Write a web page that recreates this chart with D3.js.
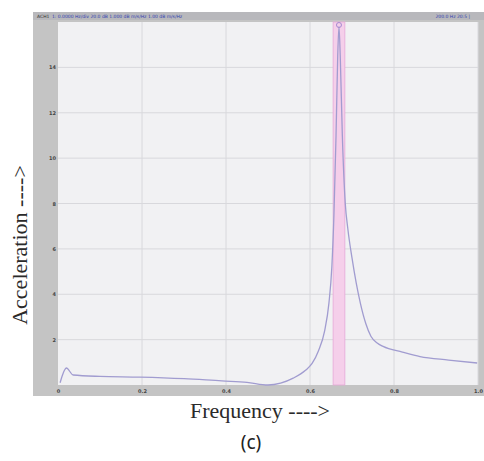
<!DOCTYPE html>
<html>
<head>
<meta charset="utf-8">
<script src="https://cdn.jsdelivr.net/npm/d3@7"></script>
<style>
  body { margin: 0; background: #fff; }
  svg { display: block; }
</style>
</head>
<body>
<div id="chart"></div>
<script>
// frequency (normalised 0..1) and acceleration
var freq  = [0.005, 0.02, 0.036, 0.1, 0.195, 0.3, 0.39, 0.45, 0.50, 0.53, 0.56, 0.59, 0.605, 0.62, 0.635, 0.645, 0.652, 0.657, 0.662, 0.666, 0.669, 0.672, 0.677, 0.684, 0.69, 0.70, 0.71, 0.72, 0.733, 0.745, 0.76, 0.774, 0.82, 0.862, 0.93, 0.998];
var accel = [0.1, 0.75, 0.44, 0.38, 0.35, 0.28, 0.18, 0.12, 0.0, 0.08, 0.3, 0.66, 0.95, 1.5, 2.4, 3.6, 5.2, 7.5, 11.0, 14.5, 15.8, 14.5, 11.0, 8.0, 6.9, 5.6, 4.5, 3.6, 2.7, 2.15, 1.85, 1.7, 1.45, 1.25, 1.1, 0.97];

var xTicks = [0, 0.2, 0.4, 0.6, 0.8, 1.0];
var xTickLabels = ["0", "0.2", "0.4", "0.6", "0.8", "1.0"];
var yTicks = [2, 4, 6, 8, 10, 12, 14];

var markerBand = [0.655, 0.683];
var peakFreq = 0.669;

var W = 484, H = 461;
var frame = { left: 33, top: 12, right: 484, bottom: 396 };
var plot = { left: 58, top: 22, right: 478, bottom: 385 };

var svg = d3.select("#chart").append("svg")
    .attr("width", W)
    .attr("height", H);

// outer analyser window
svg.append("rect")
    .attr("x", frame.left).attr("y", frame.top)
    .attr("width", frame.right - frame.left)
    .attr("height", frame.bottom - frame.top)
    .attr("fill", "#c4c4c4");

// title strip
svg.append("rect")
    .attr("x", frame.left).attr("y", frame.top)
    .attr("width", frame.right - frame.left).attr("height", 8)
    .attr("fill", "#b8b8bc");
svg.append("text")
    .attr("x", 37).attr("y", 18)
    .attr("font-family", "DejaVu Sans").attr("font-size", 4.5)
    .attr("fill", "#333")
    .text("ACH1");
svg.append("text")
    .attr("x", 52).attr("y", 18)
    .attr("font-family", "DejaVu Sans").attr("font-size", 4.5)
    .attr("fill", "#3040b0")
    .text("1: 0.0000 Hz/div     20.0 dB  1.000 dB m/s/Hz  1.00 dB  m/s/Hz");
svg.append("text")
    .attr("x", 470).attr("y", 18)
    .attr("text-anchor", "end")
    .attr("font-family", "DejaVu Sans").attr("font-size", 4.5)
    .attr("fill", "#3040b0")
    .text("200.0 Hz  20:5 |");

// plot area
svg.append("rect")
    .attr("x", plot.left).attr("y", plot.top)
    .attr("width", plot.right - plot.left)
    .attr("height", plot.bottom - plot.top)
    .attr("fill", "#f1f1f3");

var x = d3.scaleLinear().domain([0, 1]).range([plot.left, plot.right]);
var y = d3.scaleLinear().domain([0, 16]).range([plot.bottom, plot.top]);

// grid
svg.append("g")
    .selectAll("line")
    .data(xTicks.slice(1))
    .enter().append("line")
    .attr("x1", d => x(d)).attr("x2", d => x(d))
    .attr("y1", plot.top).attr("y2", plot.bottom)
    .attr("stroke", "#d8d8dc").attr("stroke-width", 1);
svg.append("g")
    .selectAll("line")
    .data(yTicks)
    .enter().append("line")
    .attr("x1", plot.left).attr("x2", plot.right)
    .attr("y1", d => y(d)).attr("y2", d => y(d))
    .attr("stroke", "#d8d8dc").attr("stroke-width", 1);

// axes (labels only, sitting in the grey frame)
var xAxis = svg.append("g")
    .attr("transform", `translate(0, ${plot.bottom + 8})`)
    .call(d3.axisBottom(x).tickValues(xTicks).tickSize(0).tickPadding(0)
        .tickFormat((d, i) => xTickLabels[i]));
xAxis.select(".domain").remove();
xAxis.selectAll("text")
    .attr("dy", 0)
    .attr("font-family", "DejaVu Sans").attr("font-size", 5).attr("font-weight", "bold")
    .attr("fill", "#444");

var yAxis = svg.append("g")
    .attr("transform", `translate(${plot.left - 2}, 0)`)
    .call(d3.axisLeft(y).tickValues(yTicks).tickSize(0).tickPadding(0));
yAxis.select(".domain").remove();
yAxis.selectAll("text")
    .attr("font-family", "DejaVu Sans").attr("font-size", 5).attr("font-weight", "bold")
    .attr("fill", "#444");

// marker band
svg.append("rect")
    .attr("x", x(markerBand[0])).attr("y", plot.top)
    .attr("width", x(markerBand[1]) - x(markerBand[0]))
    .attr("height", plot.bottom - plot.top)
    .attr("fill", "#f5cfea")
    .attr("stroke", "#e6a8d8").attr("stroke-width", 0.8);

// spectrum curve
var points = freq.map((f, i) => [f, accel[i]]);
var line = d3.line()
    .x(d => x(d[0]))
    .y(d => y(d[1]))
    .curve(d3.curveMonotoneX);
svg.append("path")
    .datum(points)
    .attr("d", line)
    .attr("fill", "none")
    .attr("stroke", "#a19cd0")
    .attr("stroke-width", 1.3);

// peak marker
svg.append("circle")
    .attr("cx", x(peakFreq)).attr("cy", plot.top + 3)
    .attr("r", 2.5)
    .attr("fill", "none")
    .attr("stroke", "#a58ad0").attr("stroke-width", 1);

// axis titles
svg.append("text")
    .attr("x", 260).attr("y", 418)
    .attr("text-anchor", "middle")
    .attr("font-family", "Liberation Serif").attr("font-size", 22)
    .attr("fill", "#2a2a2a")
    .text("Frequency ---->");

svg.append("text")
    .attr("transform", "translate(27, 245) rotate(-90)")
    .attr("text-anchor", "middle")
    .attr("font-family", "Liberation Serif").attr("font-size", 22)
    .attr("fill", "#2a2a2a")
    .text("Acceleration ---->");

svg.append("text")
    .attr("x", 251).attr("y", 449)
    .attr("text-anchor", "middle")
    .attr("font-family", "Noto Sans").attr("font-size", 19)
    .attr("fill", "#222")
    .text("(c)");
</script>
</body>
</html>
